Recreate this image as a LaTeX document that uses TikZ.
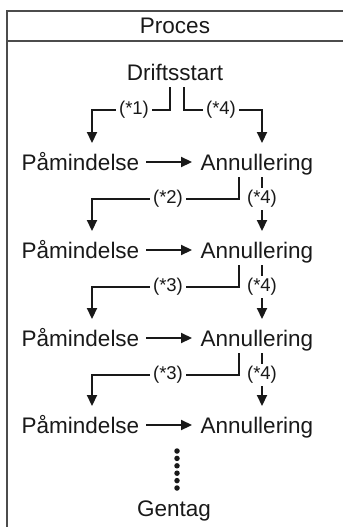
\documentclass[tikz,border=0pt]{standalone}
\usepackage{fontspec}
\setmainfont{Liberation Sans}
\usetikzlibrary{arrows.meta}
\begin{document}
\begin{tikzpicture}[x=1pt,y=-1pt,
  boxline/.style={line width=1.5pt,draw=black!70},
  txt/.style={font=\fontsize{22.5}{26}\selectfont,text=black!90,inner sep=0pt,anchor=base},
  lbl/.style={font=\fontsize{18.5}{20}\selectfont,text=black!90,fill=white,inner xsep=3.5pt,inner ysep=2pt},
  conn/.style={line width=2.2pt,draw=black!90},
  arr/.style={conn,-{Triangle[length=11pt,width=10pt]}},
  dotm/.style={circle,fill=black!90,inner sep=0pt,minimum size=5.5pt}]
\useasboundingbox (0,0) rectangle (343,527);
% frame
\draw[boxline] (7,527) -- (7,11) -- (343,11);
\draw[boxline] (7,41) -- (343,41);
\node[txt] (proc) at (175,34) {Proces};
% nodes
\node[txt] (drift) at (175,80) {Driftsstart};
\foreach \i/\y in {1/162,2/250,3/338,4/425}{
  \node[txt] (p\i) at (80.5,\y+8) {Påmindelse};
  \node[txt] (a\i) at (257,\y+8) {Annullering};
  \coordinate (pl\i) at (146,\y);
  \coordinate (pr\i) at (192,\y);
  \draw[arr] (pl\i) -- (pr\i);
  \coordinate (pin\i) at (92,\y-19);
  \coordinate (ain\i) at (262,\y-19);
}
\node[txt] (gentag) at (174,516) {Gentag};
% first split
\coordinate (d1) at (170,87);
\coordinate (d2) at (184,87);
\draw[arr] (d1) |- (92,110) -- (pin1);
\draw[arr] (d2) |- (262,110) -- (ain1);
\node[lbl] at (134,110) {(*1)};
\node[lbl] at (221,110) {(*4)};
% later splits
\foreach \i/\j/\y/\t in {1/2/162/2,2/3/250/3,3/4/338/3}{
  \coordinate (s\i) at (239,\y+15);
  \coordinate (t\i) at (262,\y+15);
  \draw[arr] (s\i) |- (92,\y+37) -- (pin\j);
  \draw[arr] (t\i) -- (ain\j);
  \node[lbl] at (168,\y+37) {(*\t)};
  \node[lbl] at (262,\y+37) {(*4)};
}
% dots
\foreach \k in {0,...,5}{
  \node[dotm] at (177,451+\k*7.4) {};
}
\end{tikzpicture}
\end{document}
